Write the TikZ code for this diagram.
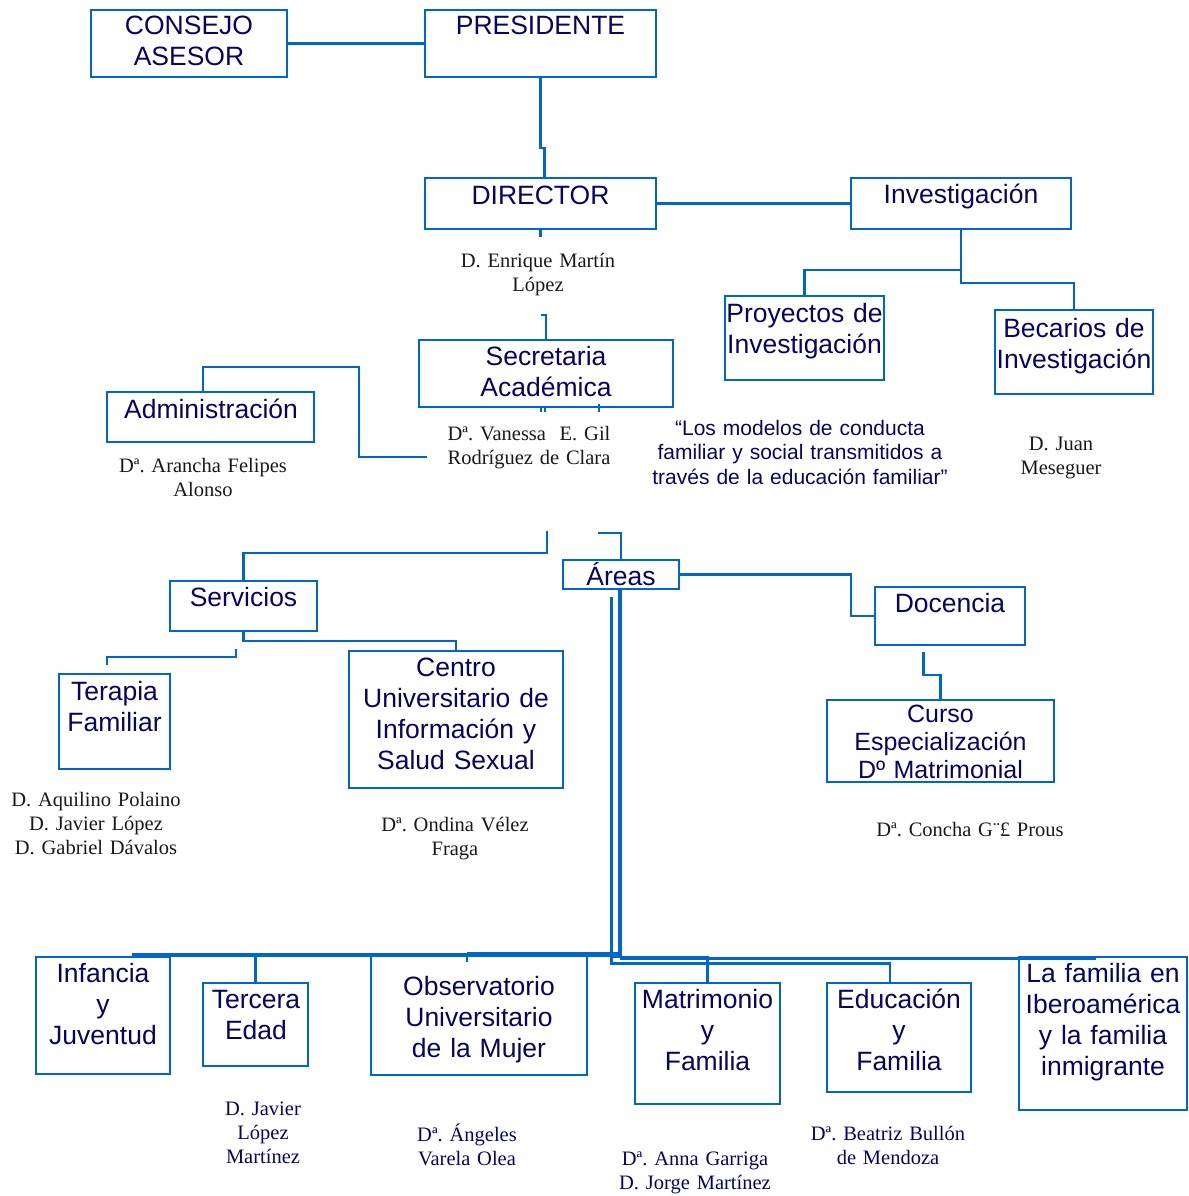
\documentclass[tikz,border=0pt]{standalone}
\usepackage{fontspec}
\setmainfont{Liberation Serif}
\newfontfamily\sansf{Liberation Sans}
\definecolor{lineblue}{RGB}{0,102,204}
\definecolor{navy}{RGB}{5,5,100}
\definecolor{nameblack}{RGB}{25,25,25}
\frenchspacing
\tikzset{
  box/.style={draw=lineblue, line width=2pt, inner sep=0pt, outer sep=0pt, rectangle},
  conn/.style={draw=lineblue, line width=2.5pt},
  bus/.style={draw=lineblue, line width=4pt},
  btext/.style={text=navy, font=\sansf\fontsize{26.5}{31}\selectfont, text width=320pt, align=center, anchor=base, inner sep=0pt},
  ctext/.style={text=navy, font=\sansf\fontsize{25}{28}\selectfont, text width=320pt, align=center, anchor=base, inner sep=0pt},
  qtext/.style={text=navy, font=\sansf\fontsize{21}{24.5}\selectfont, text width=360pt, align=center, anchor=base, inner sep=0pt},
  ntext/.style={text=nameblack, font=\frenchspacing\fontsize{20.5}{24.3}\selectfont, text width=320pt, align=center, anchor=base, inner sep=0pt},
  nbtext/.style={ntext, text=navy},
}
\begin{document}
\begin{tikzpicture}[x=1pt,y=-1pt]
\useasboundingbox[fill=white] (0,0) rectangle (1188,1196);

% ---------- boxes ----------
\node[box, minimum width=196pt, minimum height=67pt] (cons) at (189,43.5) {};
\node[box, minimum width=231pt, minimum height=67pt] (pres) at (540.5,43.5) {};
\node[box, minimum width=231pt, minimum height=51pt] (dir) at (540.5,203.5) {};
\node[box, minimum width=220pt, minimum height=51pt] (inv) at (961,203.5) {};
\node[box, minimum width=159pt, minimum height=84pt] (proy) at (804.5,338) {};
\node[box, minimum width=158pt, minimum height=84pt] (bec) at (1074,352) {};
\node[box, minimum width=254pt, minimum height=67pt] (sec) at (546,373.5) {};
\node[box, minimum width=207pt, minimum height=50pt] (adm) at (210.5,417) {};
\node[box, minimum width=147pt, minimum height=50pt] (serv) at (243.5,606) {};
\node[box, minimum width=116pt, minimum height=29pt] (areas) at (621,574.5) {};
\node[box, minimum width=150pt, minimum height=58pt] (doc) at (950,616) {};
\node[box, minimum width=227pt, minimum height=82pt] (curso) at (940.5,741) {};
\node[box, minimum width=111pt, minimum height=95pt] (ter) at (114.5,721.5) {};
\node[box, minimum width=214pt, minimum height=137pt] (centro) at (456,719.5) {};
\node[box, minimum width=134pt, minimum height=117pt] (inf) at (103,1015.5) {};
\node[box, minimum width=105pt, minimum height=83pt] (terc) at (255.5,1024.5) {};
\node[box, minimum width=216pt, minimum height=119pt] (obs) at (479,1015.5) {};
\node[box, minimum width=145pt, minimum height=121pt] (mat) at (707.5,1043.5) {};
\node[box, minimum width=144pt, minimum height=109pt] (edu) at (899,1037.5) {};
\node[box, minimum width=168pt, minimum height=153pt] (ibe) at (1103,1033.5) {};

% ---------- free connector ends ----------
\coordinate (admEnd) at (427,457);
\coordinate (secDown) at (547,531);
\coordinate (areasHook) at (598,533);
\coordinate (docTick) at (923.5,652);
\coordinate (terHook) at (236,649);
\coordinate (terEnd) at (107,665);
\coordinate (busL) at (132,955);
\coordinate (areasThin) at (611.5,597);
\coordinate (matJ) at (611.5,957);
\coordinate (ibeStart) at (620,958.5);
\coordinate (ibeEnd) at (1096,958.5);
\coordinate (obsTick) at (467,962);

% ---------- connectors ----------
\draw[conn] (cons.east) -- (pres.west);
\draw[conn] (pres.south) -- ++(0,71) -| ([xshift=4pt]dir.north);
\draw[conn] (dir.east) -- (inv.west);
\draw[conn] (dir.south) -- ++(0,8);
\draw[conn] (inv.south) -- ++(0,41) -| (proy.north);
\draw[conn] (inv.south) -- ++(0,54) -| (bec.north);
\draw[conn] (sec.north) -- ++(0,-25) -- ++(-5,0);
\draw[conn, line width=1.5pt] ([xshift=-5pt]sec.south) -- ++(0,5);
\draw[conn, line width=1.5pt] ([xshift=-1pt]sec.south) -- ++(0,5);
\draw[conn, line width=1.5pt] ([xshift=53pt,yshift=3pt]sec.south) -- ++(0,8);
\draw[conn] ([xshift=-7.5pt]adm.north) -- ++(0,-25) -- ++(156,0) |- (admEnd);
\draw[conn] (secDown) -- ++(0,22) -| (serv.north);
\draw[conn, line width=2pt] (areasHook) -| (areas.north);
\draw[conn] (areas.east) -- ++(172,0) |- (doc.west);
\draw[conn] (docTick) -- ++(0,23) -| (curso.north);
\draw[conn] (serv.south) -- ++(0,10) -| (centro.north);
\draw[conn] (terHook) -- ++(0,8) -| (terEnd);
\draw[bus] ([xshift=-1pt]areas.south) |- (busL);
\draw[conn] (areasThin) -- (611.5,963.5) -| ([xshift=-9pt]edu.north);
\draw[conn] (matJ) -| (mat.north);
\draw[conn] (ibeStart) -- (ibeEnd);
\draw[conn] (terc.north) -- ++(0,-28);
\draw[conn] (obsTick) -- ++(0,-8);
\draw[bus, line width=3pt] ([yshift=8.5pt]obsTick) -- ++(153,0);

% ---------- box texts ----------
\node[btext] (consT) at (189,35) {CONSEJO\\ASESOR};
\node[btext] (presT) at (540.5,35) {PRESIDENTE};
\node[btext] (dirT) at (540.5,204) {DIRECTOR};
\node[btext] (invT) at (961,203) {Investigación};
\node[btext] (proyT) at (804.5,322) {Proyectos de\\Investigación};
\node[btext] (becT) at (1074,337) {Becarios de\\Investigación};
\node[btext] (secT) at (546,365) {Secretaria\\Académica};
\node[btext] (admT) at (211,418) {Administración};
\node[btext] (servT) at (243.5,606) {Servicios};
\node[btext] (areasT) at (621,585) {Áreas};
\node[btext] (docT) at (950,612) {Docencia};
\node[ctext] (cursoT) at (940.5,722) {Curso\\Especialización\\Dº Matrimonial};
\node[btext] (terT) at (114.5,700) {Terapia\\Familiar};
\node[btext] (centroT) at (456,676) {Centro\\Universitario de\\Información y\\Salud Sexual};
\node[btext] (infT) at (103,982) {Infancia\\y\\Juventud};
\node[btext] (tercT) at (256,1008) {Tercera\\Edad};
\node[btext] (obsT) at (479,995) {Observatorio\\Universitario\\de la Mujer};
\node[btext] (matT) at (707.5,1008) {Matrimonio\\y\\Familia};
\node[btext] (eduT) at (899,1008) {Educación\\y\\Familia};
\node[btext] (ibeT) at (1103,982) {La familia en\\Iberoamérica\\y la familia\\inmigrante};

% ---------- quote and names ----------
\node[qtext] (quote) at (800,435) {“Los modelos de conducta\\familiar y social transmitidos a\\través de la educación familiar”};
\node[ntext] (nEnrique) at (538,267) {D. Enrique Martín\\López};
\node[ntext] (nVanessa) at (529,440) {Dª. Vanessa~ E. Gil\\Rodríguez de Clara};
\node[ntext] (nArancha) at (203,472) {Dª. Arancha Felipes\\Alonso};
\node[ntext] (nJuan) at (1061,450) {D. Juan\\Meseguer};
\node[ntext] (nAquilino) at (96,806) {D. Aquilino Polaino\\D. Javier López\\D. Gabriel Dávalos};
\node[ntext] (nOndina) at (455,831) {Dª. Ondina Vélez\\Fraga};
\node[ntext] (nConcha) at (970,836) {Dª. Concha G¨£ Prous};
\node[nbtext] (nJavier) at (263,1115) {D. Javier\\López\\Martínez};
\node[nbtext] (nAngeles) at (467,1141) {Dª. Ángeles\\Varela Olea};
\node[nbtext] (nAnna) at (695,1165) {Dª. Anna Garriga\\D. Jorge Martínez};
\node[nbtext] (nBeatriz) at (888,1140) {Dª. Beatriz Bullón\\de Mendoza};
\end{tikzpicture}
\end{document}
